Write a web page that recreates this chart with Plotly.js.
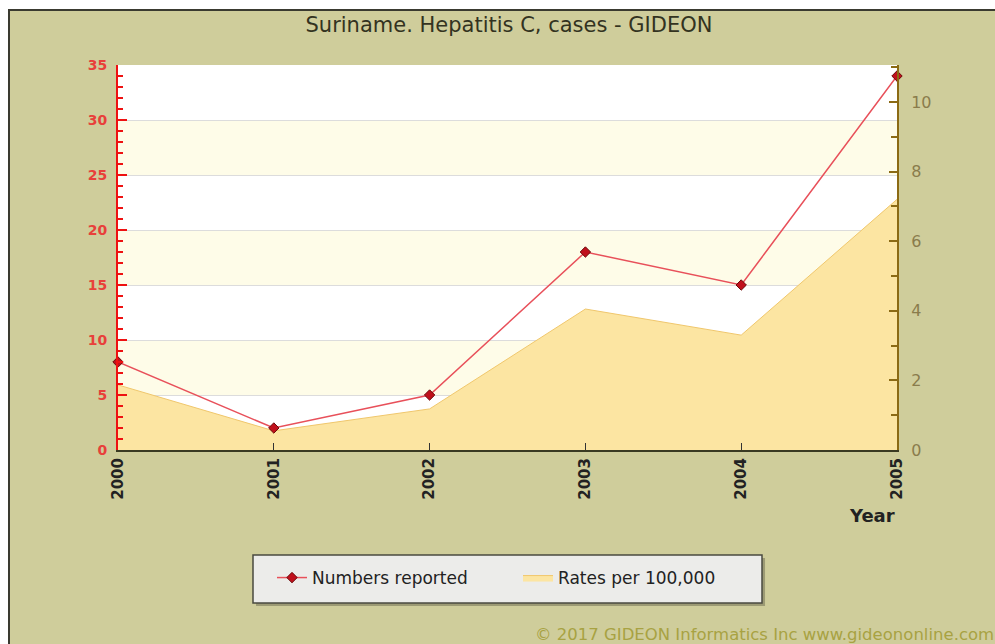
<!DOCTYPE html>
<html>
<head>
<meta charset="utf-8">
<script src="https://cdn.plot.ly/plotly-3.0.1.min.js"></script>
<style>
  html, body { margin: 0; padding: 0; background: #ffffff; width: 995px; height: 644px; overflow: hidden; }
  #frame { position: absolute; left: 8px; top: 9px; width: 987px; height: 635px;
           border-top: 2px solid #3a3a30; border-left: 2px solid #3a3a30; box-sizing: border-box; }
  #chart { width: 985px; height: 633px; }
</style>
</head>
<body>
<div id="frame"><div id="chart"></div></div>
<script>
// ---- data ----
const years = [2000, 2001, 2002, 2003, 2004, 2005];
const numbersReported = [8, 2, 5, 18, 15, 34];
const ratesPer100k = [1.87, 0.55, 1.18, 4.05, 3.3, 7.2];
const leftTicks = [0, 5, 10, 15, 20, 25, 30, 35];
const rightTicks = [0, 2, 4, 6, 8, 10];
const yearLabels = ['2000', '2001', '2002', '2003', '2004', '2005'];
const titleText = 'Suriname. Hepatitis C, cases - GIDEON';
const seriesNames = ['Numbers reported', 'Rates per 100,000'];
const copyrightText = '\u00a9 2017 GIDEON Informatics Inc www.gideononline.com';

const FONT = 'DejaVu Sans, Verdana, sans-serif';

// ---- traces ----
const rates = {
  x: years, y: ratesPer100k, name: seriesNames[1], yaxis: 'y', legendrank: 2,
  type: 'scatter', mode: 'lines', fill: 'tozeroy',
  fillcolor: '#fce5a2', line: { color: '#f0c76c', width: 1 },
  hoverinfo: 'x+y'
};
const numbers = {
  x: years, y: numbersReported, name: seriesNames[0], yaxis: 'y2', legendrank: 1,
  type: 'scatter', mode: 'lines+markers', cliponaxis: false,
  line: { color: '#e8505a', width: 1.5 },
  marker: { symbol: 'diamond', size: 8, color: '#c0101c', line: { color: '#6b0a0a', width: 1 } }
};

// alternating background bands between left-axis gridlines
const shapes = [];
for (let i = 0; i < leftTicks.length - 1; i++) {
  const fromTop = leftTicks.length - 2 - i;
  if (fromTop % 2 === 1) {
    shapes.push({ type: 'rect', layer: 'below', xref: 'paper', yref: 'y2',
      x0: 0, x1: 1, y0: leftTicks[i], y1: leftTicks[i + 1],
      fillcolor: '#fefce8', line: { width: 0 } });
  }
}
// legend box with shadow
shapes.push({ type: 'rect', xref: 'paper', yref: 'paper', layer: 'above',
  x0: 0.1772, x1: 0.8306, y0: -0.2805, y1: -0.4052,
  fillcolor: '#9c9a74', line: { width: 0 } });
shapes.push({ type: 'rect', xref: 'paper', yref: 'paper', layer: 'above',
  x0: 0.1733, x1: 0.8267, y0: -0.2727, y1: -0.3974,
  fillcolor: '#ececea', line: { color: '#4a4a40', width: 1.5 } });

const layout = {
  width: 985, height: 633,
  margin: { l: 108, r: 98, t: 54, b: 194 },
  paper_bgcolor: '#cfcd9b',
  plot_bgcolor: '#ffffff',
  font: { family: FONT, color: '#333' },
  title: { text: titleText, x: 0.5066, xanchor: 'center', y: 0.978, yanchor: 'middle', yref: 'container',
           font: { family: FONT, size: 21, color: '#33331f' } },
  showlegend: true,
  legend: {
    orientation: 'h', x: 0.1977, xanchor: 'left', y: -0.3325, yanchor: 'middle',
    bgcolor: 'rgba(0,0,0,0)', borderwidth: 0,
    traceorder: 'normal', entrywidth: 201,
    font: { family: FONT, size: 17, color: '#222' }
  },
  xaxis: {
    range: [2000, 2005], tickvals: years, ticktext: yearLabels, tickangle: -90,
    ticks: 'inside', ticklen: 7, tickcolor: '#333', tickwidth: 1,
    showline: true, linecolor: '#3a3a22', linewidth: 2,
    showgrid: false, zeroline: false, fixedrange: true,
    tickfont: { family: FONT, size: 15, color: '#222', weight: 'bold' }
  },
  yaxis: {
    side: 'right', range: [0, 11.06], tickvals: rightTicks,
    ticks: 'inside', ticklen: 8, tickcolor: '#8b6a14', tickwidth: 1.5,
    minor: { dtick: 1, tick0: 0, ticklen: 6, tickcolor: '#8b6a14', tickwidth: 1.5, ticks: 'inside' },
    showline: true, linecolor: '#8b6a14', linewidth: 2, ticklabelstandoff: 9,
    showgrid: false, zeroline: false, fixedrange: true,
    tickfont: { family: FONT, size: 16, color: '#8a7c4c' }
  },
  yaxis2: {
    overlaying: 'y', side: 'left', range: [0, 35], tickvals: leftTicks,
    ticks: 'inside', ticklen: 9, tickcolor: '#ee1111', tickwidth: 1.5,
    minor: { dtick: 1, tick0: 0, ticklen: 5, tickcolor: '#ee1111', tickwidth: 1.5, ticks: 'inside' },
    showline: true, linecolor: '#ee1111', linewidth: 2, ticklabelstandoff: 6,
    showgrid: true, gridcolor: '#dcdcdc', gridwidth: 1, zeroline: false, fixedrange: true,
    tickfont: { family: FONT, size: 14, color: '#e8403a', weight: 'bold' }
  },
  shapes: shapes,
  annotations: [
    { text: 'Year', xref: 'paper', yref: 'paper', x: 0.968, y: -0.171, showarrow: false,
      xanchor: 'center', yanchor: 'middle',
      font: { family: FONT, size: 18, color: '#222', weight: 'bold' } },
    { text: copyrightText, xref: 'paper', yref: 'paper', x: 0.533, y: -0.478, showarrow: false,
      xanchor: 'left', yanchor: 'middle',
      font: { family: FONT, size: 16.5, color: '#a8a242' } }
  ]
};

Plotly.newPlot('chart', [rates, numbers], layout, { displayModeBar: false });
</script>
</body>
</html>
